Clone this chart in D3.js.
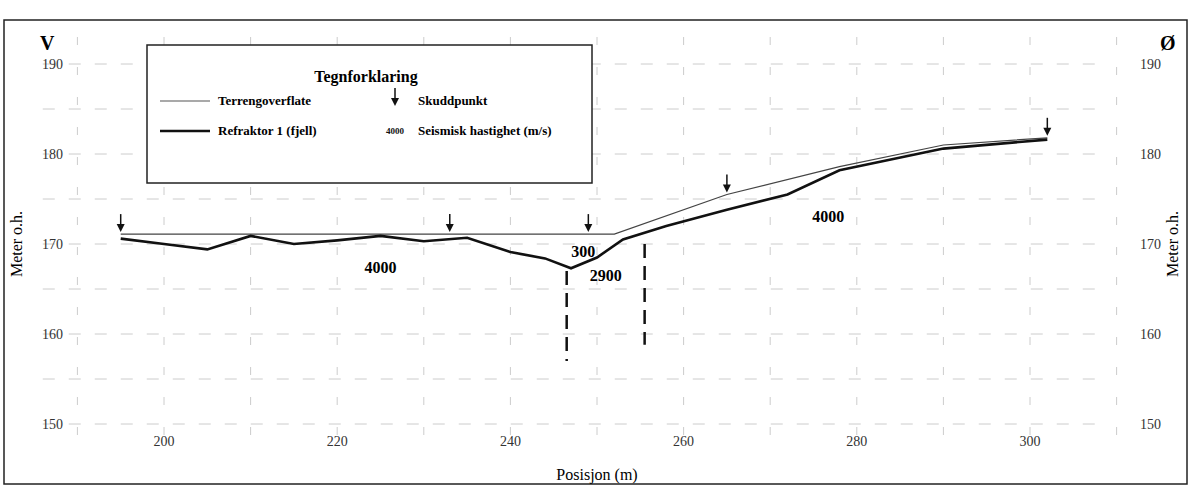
<!DOCTYPE html>
<html><head><meta charset="utf-8">
<script src="https://cdn.jsdelivr.net/npm/d3@7"></script>
<style>body{margin:0;background:#fff}svg{font-family:"Liberation Serif",serif}</style>
</head><body><svg width="1192" height="488"></svg>
<script>
const terrain = [[195,171.1],[252,171.1],[265,175.5],[278,178.6],[290,181],[302,181.8]];
const refractor = [[195,170.6],[200,170.0],[205,169.4],[210,170.9],[215,170.0],[220,170.4],[225,170.9],[230,170.3],[235,170.7],[240,169.1],[244,168.4],[247,167.3],[250,168.5],[253,170.5],[258,172.0],[265,173.8],[272,175.5],[278,178.2],[290,180.6],[302,181.6]];
const shots = [195,233,249,265,302];
const faults = [[246.5,167,157],[255.5,170,158.8]];
const velocities = [["4000",225,166.8],["300",248.4,168.6],["2900",251,165.9],["4000",276.7,172.4]];
const xTicks = [200,220,240,260,280,300];
const yTicks = [150,160,170,180,190];

const svg = d3.select("svg");
const x = d3.scaleLinear().domain([200,300]).range([164,1030]);
const y = d3.scaleLinear().domain([150,190]).range([424,64]);

svg.append("rect").attr("x",4).attr("y",20).attr("width",1183).attr("height",464)
  .attr("fill","none").attr("stroke","#222").attr("stroke-width",1.5);

// grid
const g = svg.append("g");
d3.range(190,311,10).forEach(v => g.append("line").attr("x1",x(v)).attr("x2",x(v))
  .attr("y1",y(193)).attr("y2",y(147)).attr("stroke","#ccc").attr("stroke-dasharray","8,22"));
d3.range(150,191,5).forEach(v => g.append("line").attr("x1",x(186)).attr("x2",x(309))
  .attr("y1",y(v)).attr("y2",y(v)).attr("stroke","#ccc").attr("stroke-dasharray","12,14"));

// axes labels
yTicks.forEach(v => {
  svg.append("text").attr("x",42).attr("y",y(v)+5).attr("font-size",14).attr("fill","#333").text(v);
  svg.append("text").attr("x",1140).attr("y",y(v)+5).attr("font-size",14).attr("fill","#333").text(v);
});
xTicks.forEach(v => svg.append("text").attr("x",x(v)).attr("y",446).attr("text-anchor","middle")
  .attr("font-size",14).attr("fill","#333").text(v));
svg.append("text").attr("x",x(250)).attr("y",480).attr("text-anchor","middle").attr("font-size",16).text("Posisjon (m)");
svg.append("text").attr("transform",`translate(22,${y(170)}) rotate(-90)`).attr("text-anchor","middle").attr("font-size",16).text("Meter o.h.");
svg.append("text").attr("transform",`translate(1178,${y(170)}) rotate(-90)`).attr("text-anchor","middle").attr("font-size",16).text("Meter o.h.");
svg.append("text").attr("x",40).attr("y",50).attr("font-size",20).attr("font-weight","bold").text("V");
svg.append("text").attr("x",1160).attr("y",50).attr("font-size",20).attr("font-weight","bold").text("Ø");

// lines
const line = d3.line().x(d=>x(d[0])).y(d=>y(d[1]));
svg.append("path").datum(terrain).attr("d",line).attr("fill","none").attr("stroke","#444").attr("stroke-width",1.2);
svg.append("path").datum(refractor).attr("d",line).attr("fill","none").attr("stroke","#111").attr("stroke-width",2.6);

faults.forEach(f => svg.append("line").attr("x1",x(f[0])).attr("x2",x(f[0])).attr("y1",y(f[1])).attr("y2",y(f[2]))
  .attr("stroke","#111").attr("stroke-width",2.5).attr("stroke-dasharray","14,8"));

function arrow(sel, cx, tipY){
  sel.append("line").attr("x1",cx).attr("x2",cx).attr("y1",tipY-18).attr("y2",tipY-3).attr("stroke","#111").attr("stroke-width",1.5);
  sel.append("path").attr("d",`M${cx-4},${tipY-8}L${cx},${tipY}L${cx+4},${tipY-8}Z`).attr("fill","#111");
}
const tY = d3.scaleLinear().domain(terrain.map(d=>d[0])).range(terrain.map(d=>d[1]));
shots.forEach(s => arrow(svg, x(s), y(tY(s))-2));

velocities.forEach(v => svg.append("text").attr("x",x(v[1])).attr("y",y(v[2])).attr("text-anchor","middle")
  .attr("font-size",16).attr("font-weight","bold").text(v[0]));

// legend
const lg = svg.append("g");
lg.append("rect").attr("x",147).attr("y",45).attr("width",445).attr("height",138).attr("fill","#fff").attr("stroke","#222").attr("stroke-width",1.5);
lg.append("text").attr("x",366).attr("y",82).attr("text-anchor","middle").attr("font-size",16).attr("font-weight","bold").text("Tegnforklaring");
lg.append("line").attr("x1",160).attr("x2",210).attr("y1",101).attr("y2",101).attr("stroke","#555").attr("stroke-width",1.2);
lg.append("line").attr("x1",160).attr("x2",210).attr("y1",131).attr("y2",131).attr("stroke","#111").attr("stroke-width",2.5);
lg.append("text").attr("x",218).attr("y",105).attr("font-size",13).attr("font-weight","bold").text("Terrengoverflate");
lg.append("text").attr("x",218).attr("y",135).attr("font-size",13).attr("font-weight","bold").text("Refraktor 1 (fjell)");
arrow(lg, 395, 106);
lg.append("text").attr("x",395).attr("y",134).attr("text-anchor","middle").attr("font-size",9).attr("fill","#111").attr("font-weight","bold").text("4000");
lg.append("text").attr("x",418).attr("y",105).attr("font-size",13).attr("font-weight","bold").text("Skuddpunkt");
lg.append("text").attr("x",418).attr("y",135).attr("font-size",13).attr("font-weight","bold").text("Seismisk hastighet (m/s)");
</script></body></html>
